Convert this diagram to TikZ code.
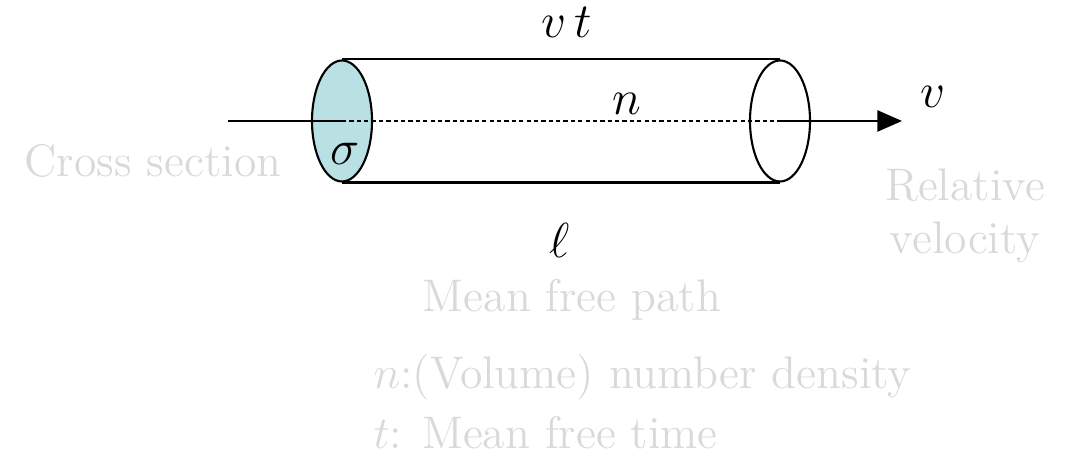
\documentclass[tikz,border=0pt]{standalone}
\usepackage{fix-cm}
\usepackage{fontspec}
\usepackage{xcolor}
\usepackage{tikz}
\usetikzlibrary{arrows.meta,positioning,shapes.geometric}
\usepackage{amsmath}
\definecolor{capfill}{HTML}{B9E0E3}
\definecolor{faint}{HTML}{D9D9D9}
\tikzset{
  capnode/.style={
    ellipse, draw=black, fill=#1, line width=0.6pt,
    minimum width=0.6cm, minimum height=1.21cm,
    inner sep=0pt
  },
  capnode/.default=white,
  axisline/.style={line width=0.6pt, color=black},
  mathlabel/.style={
    font=\fontsize{14}{16}\selectfont, inner sep=1pt
  },
  notelabel/.style={
    font=\fontsize{13}{16}\selectfont, color=faint, inner sep=0pt,
    align=#1
  },
  notelabel/.default=center,
}

\begin{document}
\begin{tikzpicture}
  \useasboundingbox (0,0) rectangle (10.74,4.54);

  % ── cylinder ──
  \node[capnode=capfill] (lcap) at (3.42,3.33) {};
  \node[capnode] (rcap) at (7.80,3.33) {};
  \draw[axisline] (lcap.north) -- (rcap.north);
  \draw[axisline] (lcap.south) -- (rcap.south);

  % ── axis ──
  \coordinate (axstart) at (2.28,3.33);
  \coordinate (axend) at (9.02,3.33);
  \draw[axisline] (axstart) -- (lcap.center);
  \draw[axisline, dash pattern=on 1.2pt off 0.9pt] (lcap.center) -- (rcap.center);
  \draw[axisline, -{Triangle[length=7pt, width=6pt]}] (rcap.center) -- (axend);

  % ── math labels ──
  \node[mathlabel] (vt) at (5.67,4.32) {$v\,t$};
  \node[mathlabel] (dens) at (6.27,3.50) {$n$};
  \node[mathlabel] (vel) at (9.33,3.57) {$v$};
  \node[mathlabel] (sig) at (3.45,3.00) {$\sigma$};
  \node[mathlabel] (len) at (5.60,2.14) {$\ell$};

  % ── notes ──
  \node[notelabel, anchor=east] (cross) at (2.82,2.93) {Cross section};
  \node[notelabel] (relvel) at (9.65,2.38) {Relative\\[-1pt]velocity};
  \node[notelabel] (mfp) at (5.72,1.54) {Mean free path};
  \node[notelabel, anchor=west] (ndef) at (3.73,0.77) {$n$:(Volume) number density};
  \node[notelabel, anchor=west] (tdef) at (3.73,0.21) {$t$: Mean free time};
\end{tikzpicture}
\end{document}
